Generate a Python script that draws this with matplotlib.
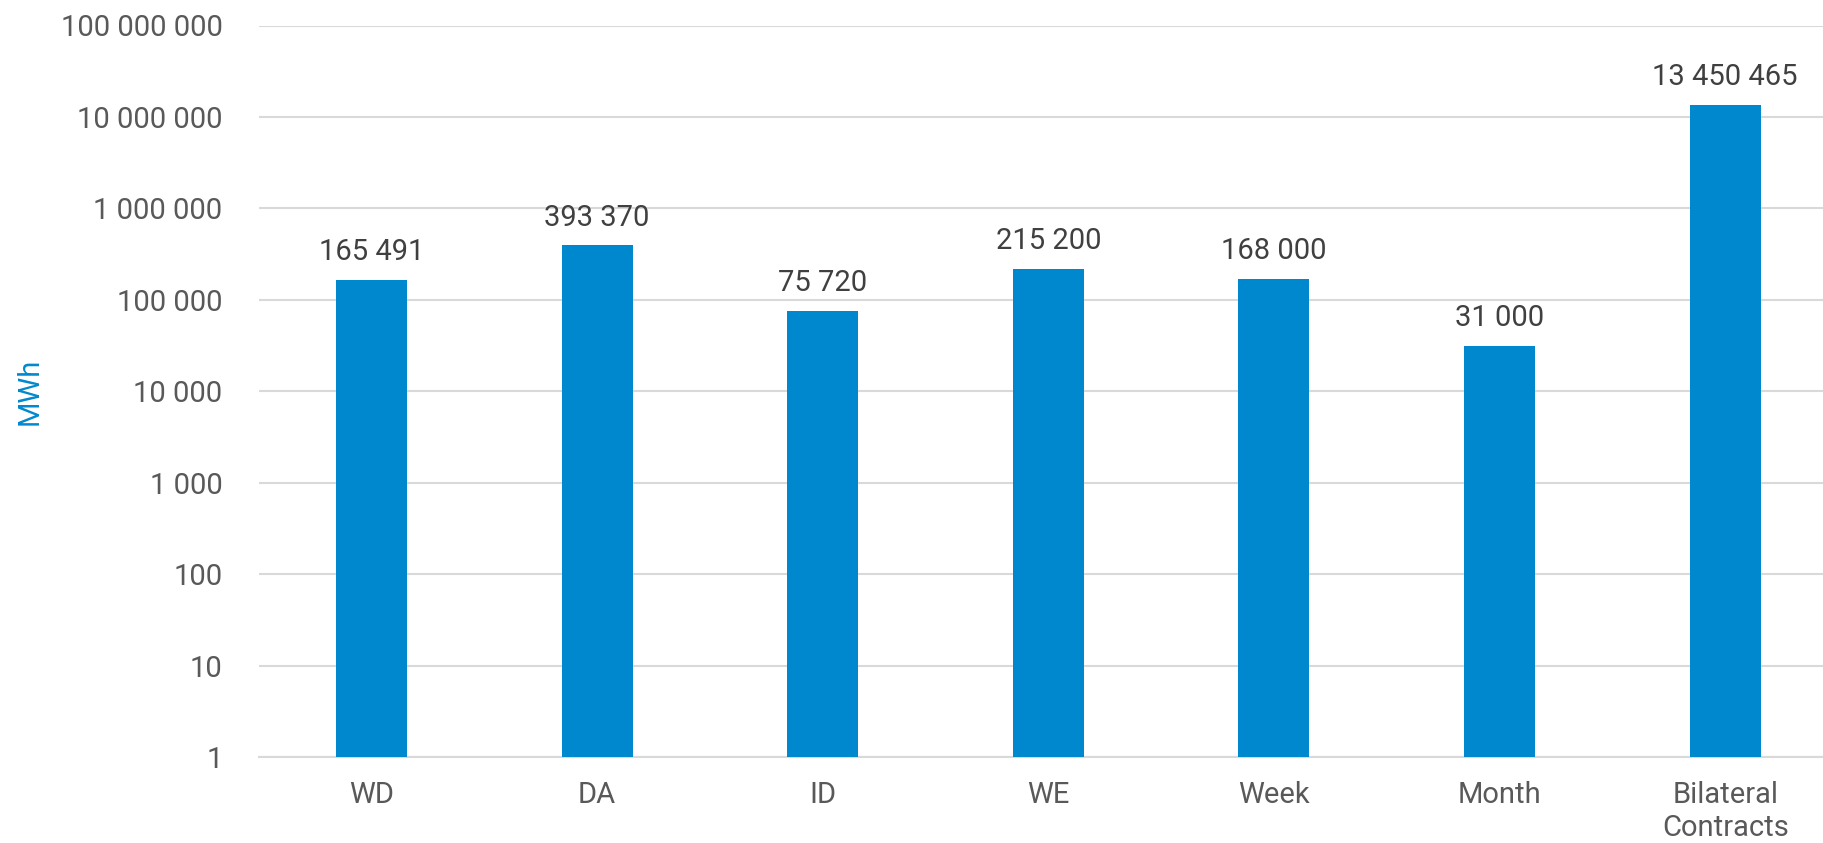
import numpy as np
import matplotlib
matplotlib.use("Agg")
import matplotlib.pyplot as plt
from matplotlib.ticker import FixedLocator, FuncFormatter, NullLocator

categories = ["WD", "DA", "ID", "WE", "Week", "Month", "Bilateral\nContracts"]
volumes = [165491, 393370, 75720, 215200, 168000, 31000, 13450465]
y_ticks = [1, 10, 100, 1000, 10000, 100000, 1000000, 10000000, 100000000]

BAR_COLOR = "#0088CE"
GRID_COLOR = "#D9D9D9"
TICK_COLOR = "#595959"
LABEL_COLOR = "#404040"


def fmt_space(v, pos=None):
    # thousands separated by spaces
    return f"{int(round(v)):,}".replace(",", " ")


plt.rcParams["font.family"] = ["Roboto", "DejaVu Sans"]

dpi = 100
fig = plt.figure(figsize=(1824 / dpi, 843 / dpi), dpi=dpi)
# plot area runs slightly past the right edge of the image, as in the source
ax = fig.add_axes([258.7 / 1824, 1 - 757 / 843, (1838 - 258.7) / 1824, (757 - 25.5) / 843])

x_pos = np.arange(len(categories))
bars = ax.bar(x_pos, volumes, width=0.315, color=BAR_COLOR, zorder=3)

ax.set_yscale("log")
ax.set_ylim(1, 1e8)
ax.set_xlim(-0.5, len(categories) - 0.5)
ax.yaxis.set_major_locator(FixedLocator(y_ticks))
ax.yaxis.set_minor_locator(NullLocator())
ax.yaxis.set_major_formatter(FuncFormatter(fmt_space))
ax.yaxis.grid(True, color=GRID_COLOR, linewidth=1.5, zorder=0)

ax.set_xticks(x_pos)
ax.set_xticklabels(categories, linespacing=1.25)

for side in ["top", "right", "left"]:
    ax.spines[side].set_visible(False)
ax.spines["bottom"].set_color(GRID_COLOR)
ax.spines["bottom"].set_linewidth(1.5)

ax.tick_params(axis="y", length=0, pad=26, labelsize=21, labelcolor=TICK_COLOR)
ax.tick_params(axis="x", length=0, pad=17, labelsize=21, labelcolor=TICK_COLOR)

for rect, v in zip(bars, volumes):
    ax.annotate(fmt_space(v), (rect.get_x() + rect.get_width() / 2, v),
                xytext=(0, 10), textcoords="offset points",
                ha="center", va="bottom", fontsize=21, color=LABEL_COLOR)

fig.text(30 / 1824, 1 - 391 / 843, "MWh", rotation=90, ha="center", va="center",
         fontsize=21, color=BAR_COLOR)

fig.savefig("out.png", dpi=dpi)
